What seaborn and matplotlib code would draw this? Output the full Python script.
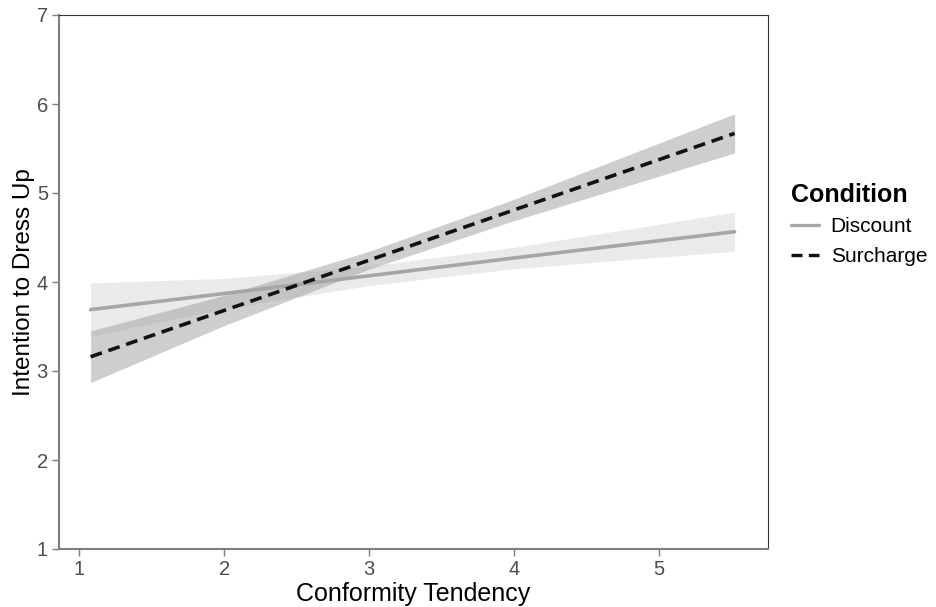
import matplotlib
matplotlib.use("Agg")
import matplotlib.pyplot as plt
import seaborn as sns
import pandas as pd
from matplotlib.lines import Line2D

# Data
x_pts = [1.08, 2.0, 3.0, 4.0, 5.52]
discount_fit = [3.69, 3.87, 4.07, 4.27, 4.565]
discount_lo = [3.39, 3.70, 3.96, 4.15, 4.345]
discount_hi = [3.99, 4.04, 4.18, 4.39, 4.785]
surcharge_fit = [3.16, 3.68, 4.245, 4.81, 5.67]
surcharge_lo = [2.87, 3.51, 4.145, 4.69, 5.45]
surcharge_hi = [3.45, 3.85, 4.345, 4.93, 5.89]
conditions = ["Discount", "Surcharge"]
x_ticks = [1, 2, 3, 4, 5]
y_ticks = [1, 2, 3, 4, 5, 6, 7]

sns.set_theme(style="white")
plt.rcParams['font.family'] = ['Liberation Sans', 'DejaVu Sans']

df = pd.DataFrame({
    "x": x_pts * 2,
    "y": discount_fit + surcharge_fit,
    "Condition": [conditions[0]] * len(x_pts) + [conditions[1]] * len(x_pts),
})

fig = plt.figure(figsize=(9.37, 6.07), dpi=100)
ax = fig.add_axes([59/937, 1-549/607, (768-59)/937, (549-15)/607])

ax.fill_between(x_pts, discount_lo, discount_hi, color="#d6d6d6", alpha=0.5, lw=0, zorder=1)
ax.fill_between(x_pts, surcharge_lo, surcharge_hi, color="#9a9a9a", alpha=0.48, lw=0, zorder=1)

sns.lineplot(data=df, x="x", y="y", hue="Condition", style="Condition",
             palette={"Discount": "#a6a6a6", "Surcharge": "#111111"},
             dashes={"Discount": "", "Surcharge": (3.3, 1.9)},
             linewidth=2.6, ax=ax, legend=False, zorder=3)

ax.set_xlim(0.862, 5.75)
ax.set_ylim(1, 7)
ax.set_xticks(x_ticks)
ax.set_yticks(y_ticks)
ax.tick_params(axis="both", which="both", length=5, width=1, color="#7f7f7f",
               labelsize=14.5, labelcolor="#4d4d4d", direction="out", pad=3,
               bottom=True, left=True)
for side in ["left", "bottom"]:
    ax.spines[side].set_color("#7f7f7f")
    ax.spines[side].set_linewidth(1.5)
for side in ["top", "right"]:
    ax.spines[side].set_color("#333333")
    ax.spines[side].set_linewidth(0.8)
ax.set_xlabel("Conformity Tendency", fontsize=18, color="black", labelpad=2)
ax.set_ylabel("Intention to Dress Up", fontsize=17.5, color="black", labelpad=1)

handles = [Line2D([], [], color="#a6a6a6", lw=2.4),
           Line2D([], [], color="#111111", lw=2.4, dashes=(3.3, 1.9))]
leg = fig.legend(handles, conditions, title="Condition", loc="upper left",
                 bbox_to_anchor=(791/937, 1-183/607), frameon=False,
                 borderpad=0, borderaxespad=0,
                 fontsize=15, title_fontproperties={"weight": "bold", "size": 18},
                 handlelength=1.35, handletextpad=0.55, labelspacing=0.5,
                 alignment="left")
for t in leg.get_texts():
    t.set_color("black")
leg.get_title().set_color("black")

fig.savefig("out.png", dpi=100)
